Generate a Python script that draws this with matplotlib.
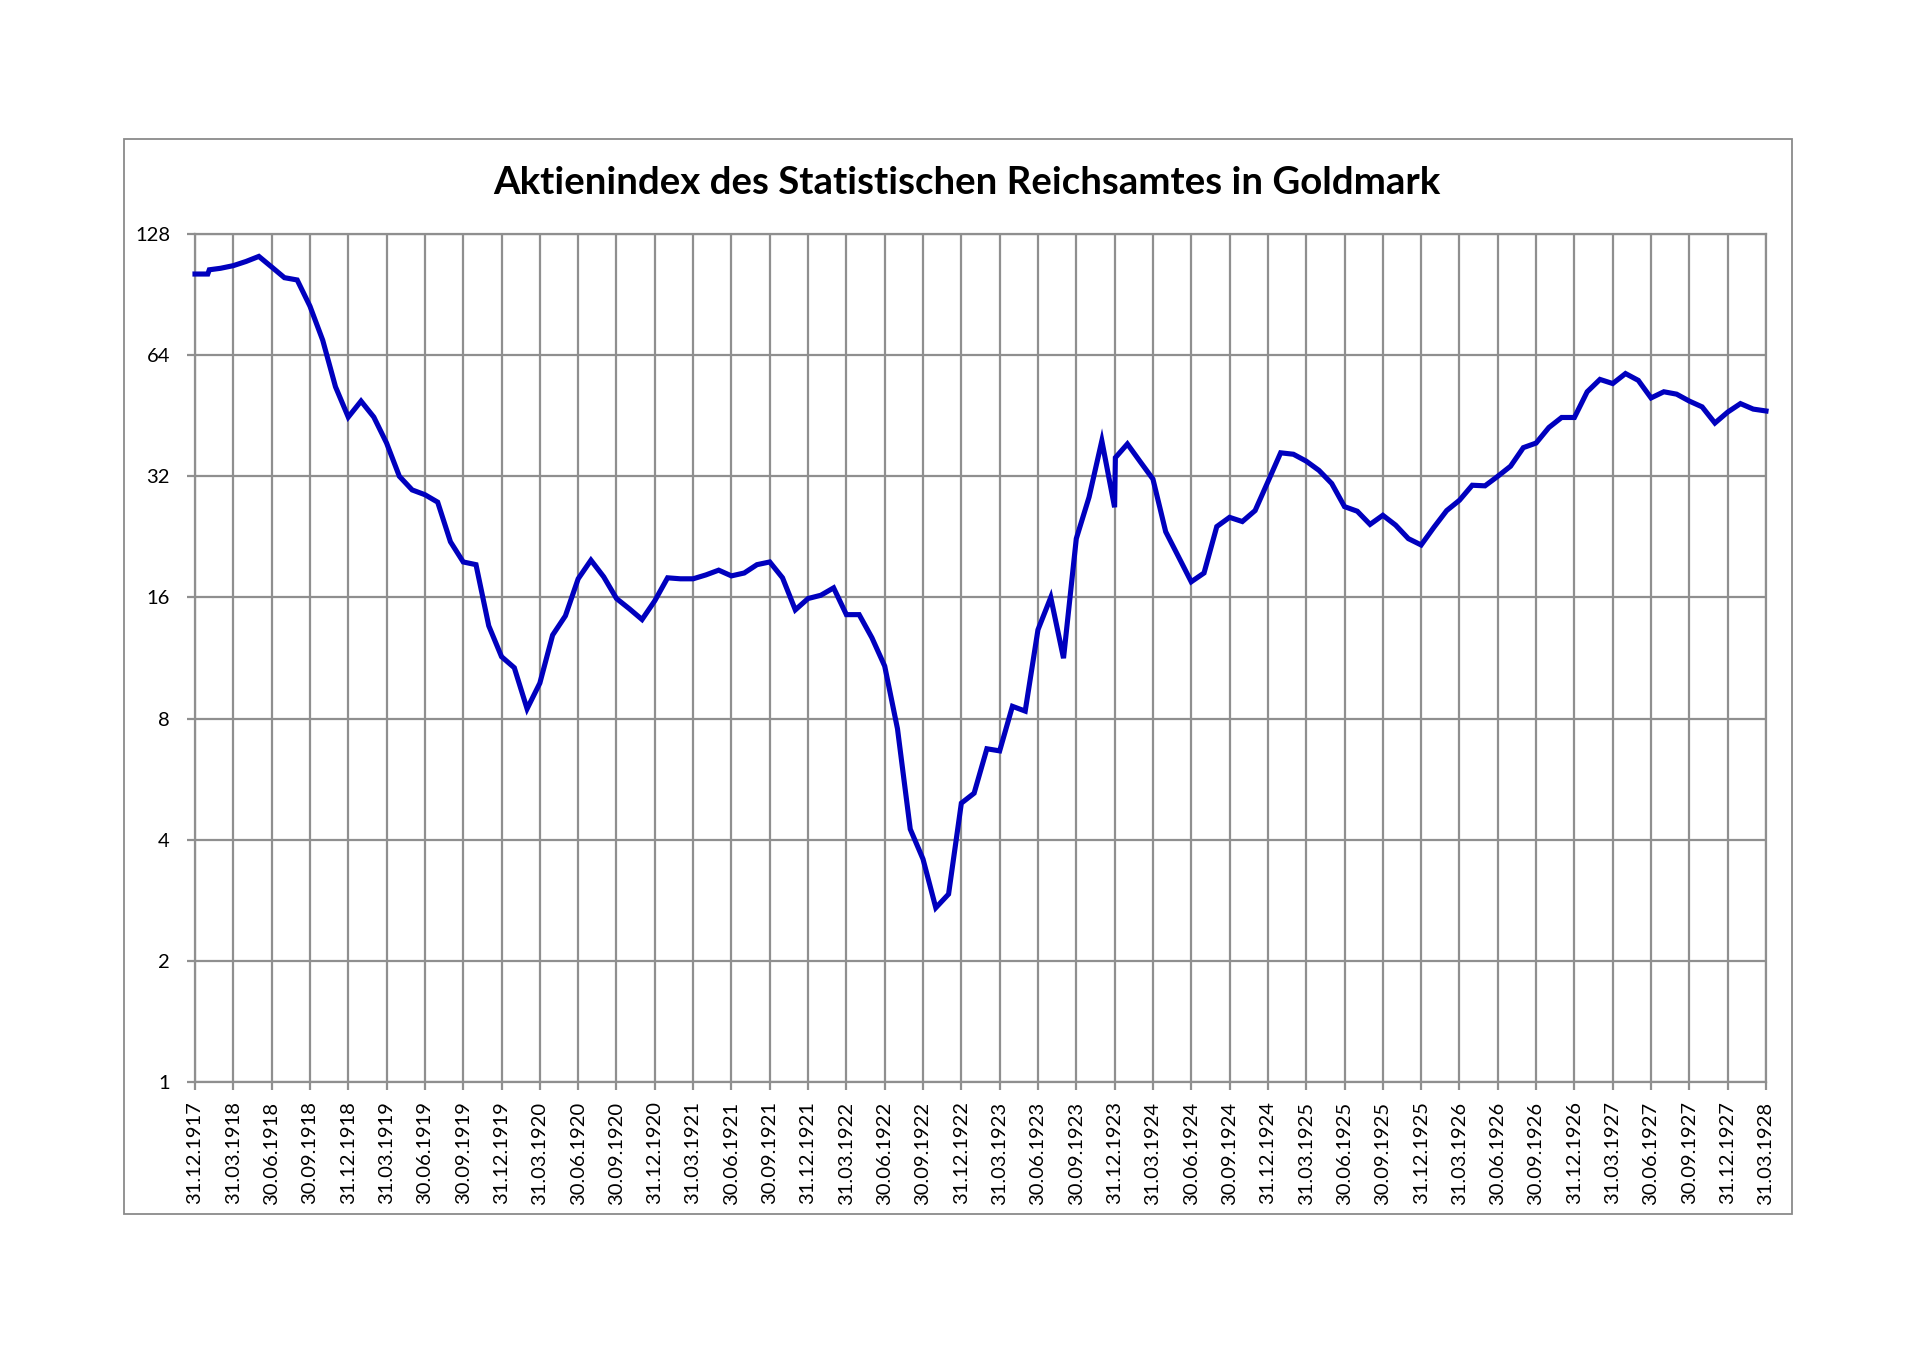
import matplotlib
matplotlib.use("Agg")
import matplotlib.pyplot as plt
from matplotlib.ticker import FixedLocator, NullLocator, FixedFormatter
from matplotlib.patches import Rectangle

# ---- data ----
# position in months after 31.12.1917
month_offsets = [0, 1, 1.12, 2, 3, 4, 5, 6, 7, 8, 9, 10, 11, 12, 13, 14, 15, 16, 17, 18, 19,
                 20, 21, 22, 23, 24, 25, 26, 27, 28, 29, 30, 31, 32, 33, 34, 35, 36, 37, 38, 39,
                 40, 41, 42, 43, 44, 45, 46, 47, 48, 49, 50, 51, 52, 53, 54, 55, 56, 57, 58, 59,
                 60, 61, 62, 63, 64, 65, 66, 67, 68, 69, 70, 71, 72, 72.06, 73, 74, 75, 76, 77,
                 78, 79, 80, 81, 82, 83, 84, 85, 86, 87, 88, 89, 90, 91, 92, 93, 94, 95, 96, 97,
                 98, 99, 100, 101, 102, 103, 104, 105, 106, 107, 108, 109, 110, 111, 112, 113,
                 114, 115, 116, 117, 118, 119, 120, 121, 122, 123]
index_values = [101.8, 101.8, 104.3, 105.2, 106.8, 109.4, 112.6, 106.0, 99.7, 98.4, 84.7, 69.7,
                53.4, 44.9, 49.2, 44.9, 38.7, 32.0, 29.6, 28.8, 27.6, 22.0, 19.6, 19.3, 13.6,
                11.4, 10.7, 8.46, 9.8, 12.9, 14.4, 17.8, 19.8, 18.0, 15.9, 15.0, 14.1, 15.7,
                17.9, 17.8, 17.8, 18.2, 18.7, 18.1, 18.4, 19.3, 19.6, 17.9, 14.9, 15.9, 16.2,
                16.9, 14.5, 14.5, 12.7, 10.8, 7.55, 4.25, 3.58, 2.71, 2.93, 4.93, 5.22, 6.73,
                6.65, 8.58, 8.35, 13.3, 16.0, 11.3, 22.4, 28.4, 39.2, 26.8, 35.6, 38.5, 34.8,
                31.5, 23.3, 20.2, 17.5, 18.4, 24.0, 25.3, 24.7, 26.3, 31.0, 36.6, 36.3, 34.9,
                33.1, 30.7, 26.9, 26.2, 24.3, 25.6, 24.2, 22.4, 21.6, 23.9, 26.3, 27.9, 30.4,
                30.3, 32.0, 33.9, 37.7, 38.7, 42.3, 44.8, 44.8, 51.9, 55.7, 54.4, 57.6, 55.4,
                50.1, 51.9, 51.2, 49.2, 47.6, 43.4, 46.2, 48.5, 47.0, 46.5]

quarter_labels = ["31.12.1917", "31.03.1918", "30.06.1918", "30.09.1918",
                  "31.12.1918", "31.03.1919", "30.06.1919", "30.09.1919",
                  "31.12.1919", "31.03.1920", "30.06.1920", "30.09.1920",
                  "31.12.1920", "31.03.1921", "30.06.1921", "30.09.1921",
                  "31.12.1921", "31.03.1922", "30.06.1922", "30.09.1922",
                  "31.12.1922", "31.03.1923", "30.06.1923", "30.09.1923",
                  "31.12.1923", "31.03.1924", "30.06.1924", "30.09.1924",
                  "31.12.1924", "31.03.1925", "30.06.1925", "30.09.1925",
                  "31.12.1925", "31.03.1926", "30.06.1926", "30.09.1926",
                  "31.12.1926", "31.03.1927", "30.06.1927", "30.09.1927",
                  "31.12.1927", "31.03.1928"]
y_ticks = [1, 2, 4, 8, 16, 32, 64, 128]
y_tick_labels = ["1", "2", "4", "8", "16", "32", "64", "128"]
title_text = "Aktienindex des Statistischen Reichsamtes in Goldmark"

# ---- figure ----
W, H = 1920, 1357
fig = plt.figure(figsize=(W / 100, H / 100), dpi=100)
fig.patch.set_facecolor("white")

left, right, top, bottom = 195, 1766, 234, 1082
ax = fig.add_axes([left / W, 1 - bottom / H, (right - left) / W, (bottom - top) / H])

grid_col = "#8f8f8f"
line_col = "#0000BE"
font = "Lato"

ax.plot(month_offsets, index_values, color=line_col, lw=3.7, solid_joinstyle="miter",
        zorder=3, clip_on=False)
ax.set_yscale("log", base=2)
ax.set_ylim(1, 128)
ax.set_xlim(0, 123)

ax.yaxis.set_major_locator(FixedLocator(y_ticks))
ax.yaxis.set_major_formatter(FixedFormatter(y_tick_labels))
ax.yaxis.set_minor_locator(NullLocator())
qpos = [3 * i for i in range(len(quarter_labels))]
ax.set_xticks(qpos)
ax.set_xticklabels(quarter_labels, rotation=90, fontfamily=font, fontsize=14.5)
for lab in ax.get_yticklabels():
    lab.set_fontfamily(font)
    lab.set_fontsize(14.5)

ax.grid(True, color=grid_col, lw=1.6, zorder=1)
ax.set_axisbelow(True)
for s in ax.spines.values():
    s.set_color(grid_col)
    s.set_linewidth(1.6)
ax.tick_params(axis="x", length=6, width=1.6, color=grid_col, pad=8, labelcolor="black")
ax.tick_params(axis="y", length=6, width=1.6, color=grid_col, pad=12, labelcolor="black")

# outer chart border
fig.patches.append(Rectangle((124 / W, 1 - 1214 / H), (1792 - 124) / W, (1214 - 139) / H,
                             transform=fig.transFigure, fill=False, edgecolor="#8a8a8a",
                             lw=1.3, zorder=0))

# title, fitted to target width
t = fig.text(967 / W, 1 - 183 / H, title_text, ha="center", va="center",
             fontfamily=font, fontweight="bold", fontsize=24)
fig.canvas.draw()
bb = t.get_window_extent()
t.set_fontsize(24 * 946 / bb.width)

fig.savefig("out.png", dpi=100, facecolor="white")
